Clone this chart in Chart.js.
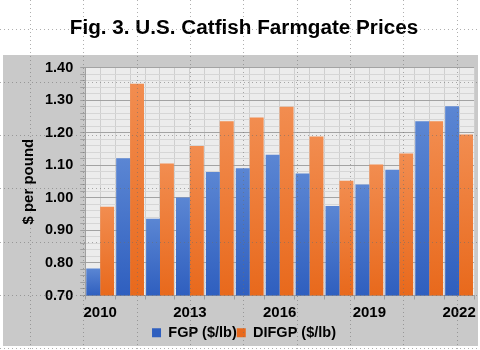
<!DOCTYPE html>
<html>
<head>
<meta charset="utf-8">
<script src="https://cdn.jsdelivr.net/npm/chart.js@4.4.1/dist/chart.umd.min.js"></script>
<style>
  html, body { margin: 0; padding: 0; background: #fff; }
</style>
</head>
<body>
<canvas id="myChart" width="480" height="350"></canvas>
<script>
// data
const years = ["2010", "2011", "2012", "2013", "2014", "2015", "2016", "2017", "2018", "2019", "2020", "2021", "2022"];
const fgp = [0.783, 1.122, 0.936, 1.001, 1.080, 1.091, 1.133, 1.075, 0.975, 1.041, 1.087, 1.236, 1.282];
const difgp = [0.973, 1.351, 1.106, 1.160, 1.236, 1.247, 1.280, 1.189, 1.053, 1.103, 1.137, 1.236, 1.195];
const shownYears = ["2010", "2013", "2016", "2019", "2022"];

const FONT = "'Liberation Sans', Arial, sans-serif";

// vertical gradient for each bar, from its top down to the axis
function barGradient(top, bottom) {
  return function(context) {
    const chart = context.chart;
    const y = chart.scales && chart.scales.y;
    if (!chart.chartArea || !y || context.raw === undefined) return bottom;
    const yTop = y.getPixelForValue(context.raw);
    const g = chart.ctx.createLinearGradient(0, yTop, 0, chart.chartArea.bottom);
    g.addColorStop(0, top);
    g.addColorStop(1, bottom);
    return g;
  };
}

// grey panel behind the chart and the sheet's dotted cell lines on top
const sheetPlugin = {
  id: 'sheet',
  beforeDraw(chart) {
    const c = chart.ctx;
    const a = chart.chartArea;
    c.save();
    c.fillStyle = '#ffffff';
    c.fillRect(0, 0, chart.width, chart.height);
    c.fillStyle = '#c9c9c9';
    c.fillRect(3, 55, 475, 291);
    c.fillStyle = '#ececec';
    c.fillRect(a.left, a.top, a.right - a.left, a.bottom - a.top);
    c.restore();
  },
  afterDraw(chart) {
    const c = chart.ctx;
    c.save();
    c.strokeStyle = 'rgba(110,110,110,0.55)';
    c.lineWidth = 1;
    c.setLineDash([1, 3]);
    [30, 83, 137, 190, 243, 297, 350, 403, 457].forEach(function(x) {
      c.beginPath(); c.moveTo(x + 0.5, 0); c.lineTo(x + 0.5, chart.height); c.stroke();
    });
    [29, 82, 135, 188, 242, 295, 348].forEach(function(y) {
      c.beginPath(); c.moveTo(0, y + 0.5); c.lineTo(chart.width, y + 0.5); c.stroke();
    });
    c.restore();
  }
};

const ctx = document.getElementById('myChart').getContext('2d');

const chart = new Chart(ctx, {
  type: 'bar',
  data: {
    labels: years,
    datasets: [{
      label: 'FGP ($/lb)',
      data: fgp,
      backgroundColor: barGradient('#5b86d3', '#2f5fbf'),
      borderWidth: 0,
      categoryPercentage: 0.93,
      barPercentage: 1.0
    }, {
      label: 'DIFGP ($/lb)',
      data: difgp,
      backgroundColor: barGradient('#f28d50', '#e8691c'),
      borderWidth: 0,
      categoryPercentage: 0.93,
      barPercentage: 1.0
    }]
  },
  options: {
    responsive: false,
    animation: false,
    layout: { padding: { left: 12, right: 4, top: 0, bottom: 0 } },
    plugins: {
      title: {
        display: true,
        text: 'Fig. 3. U.S. Catfish Farmgate Prices',
        color: '#000',
        font: { family: FONT, size: 20.7, weight: 'bold' },
        padding: { top: 16, bottom: 27 }
      },
      legend: {
        position: 'bottom',
        labels: {
          color: '#000',
          font: { family: FONT, size: 14.5, weight: 'bold' },
          boxWidth: 9,
          boxHeight: 9,
          padding: 0
        }
      },
      tooltip: { enabled: false }
    },
    scales: {
      x: {
        offset: true,
        grid: {
          offset: true,
          color: '#cfcfcf',
          tickColor: '#a0a0a0',
          tickLength: 4
        },
        border: { color: '#a0a0a0' },
        ticks: {
          autoSkip: false,
          maxRotation: 0,
          padding: 4,
          color: '#000',
          font: { family: FONT, size: 15, weight: 'bold' },
          callback: function(value, index) {
            const lab = this.getLabelForValue(value);
            return shownYears.includes(lab) ? lab : '';
          }
        }
      },
      xMid: {
        type: 'category',
        position: 'top',
        labels: years,
        offset: true,
        grid: { offset: false, color: '#cfcfcf', drawTicks: false },
        border: { display: false },
        ticks: { display: false }
      },
      y: {
        min: 0.7,
        max: 1.4,
        grid: {
          color: function(c) {
            const v = Math.round(c.tick.value * 100);
            return v % 10 === 0 ? '#a3a3a3' : '#d6d6d6';
          },
          tickColor: '#a0a0a0',
          tickLength: 5
        },
        border: { color: '#a0a0a0' },
        ticks: {
          stepSize: 0.02,
          autoSkip: false,
          padding: 7,
          color: '#000',
          font: { family: FONT, size: 14.5, weight: 'bold' },
          callback: function(value) {
            const v = Math.round(value * 100);
            return v % 10 === 0 ? (v / 100).toFixed(2) : '';
          }
        },
        title: {
          display: true,
          text: '$ per pound',
          color: '#000',
          font: { family: FONT, size: 15, weight: 'bold' },
          padding: { top: 8, bottom: 0 }
        }
      }
    }
  },
  plugins: [sheetPlugin]
});
</script>
</body>
</html>
